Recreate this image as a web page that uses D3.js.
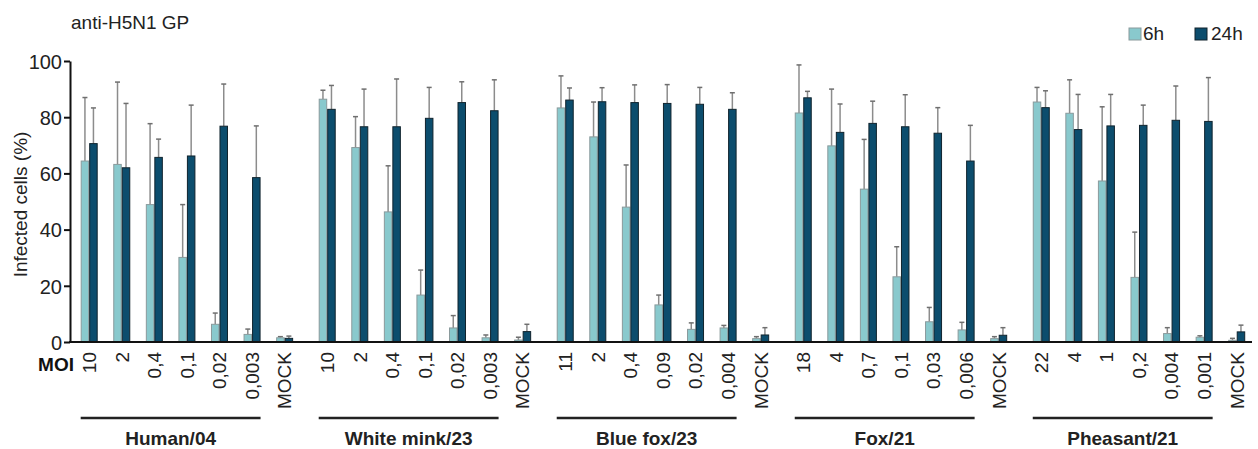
<!DOCTYPE html>
<html>
<head>
<meta charset="utf-8">
<script src="https://cdn.jsdelivr.net/npm/d3@7"></script>
<style>
  body { margin: 0; background: #fff; }
  svg { display: block; font-family: "Liberation Sans", Arial, sans-serif; }
  .tick text { font-size: 20px; fill: #222; }
</style>
</head>
<body>
<svg id="chart" width="1258" height="449"></svg>
<script>
// groups of virus strains, MOI labels per group
const groups = ["Human/04", "White mink/23", "Blue fox/23", "Fox/21", "Pheasant/21"];
const moiLabels = [
  ["10", "2", "0,4", "0,1", "0,02", "0,003", "MOCK"],
  ["10", "2", "0,4", "0,1", "0,02", "0,003", "MOCK"],
  ["11", "2", "0,4", "0,09", "0,02", "0,004", "MOCK"],
  ["18", "4", "0,7", "0,1", "0,03", "0,006", "MOCK"],
  ["22", "4", "1", "0,2", "0,004", "0,001", "MOCK"]
];
const series = ["6h", "24h"];

// mean infected cells (%) and SD, one row per group
const mean6h = [
  [64.4, 63.2, 48.9, 30.1, 6.3, 2.7, 1.5],
  [86.4, 69.2, 46.3, 16.7, 5.0, 1.5, 0.7],
  [83.3, 73.0, 48.0, 13.2, 4.5, 5.0, 1.2],
  [81.5, 69.8, 54.4, 23.2, 7.2, 4.3, 1.2],
  [85.4, 81.4, 57.3, 23.0, 3.0, 1.7, 0.6]
];
const sd6h = [
  [22.6, 29.3, 28.8, 18.8, 4.0, 1.9, 0.4],
  [3.2, 11.0, 16.4, 8.9, 4.4, 1.0, 1.0],
  [11.4, 12.4, 15.0, 3.5, 2.3, 0.9, 0.7],
  [17.1, 20.2, 17.7, 10.7, 5.1, 2.7, 0.7],
  [5.2, 11.9, 26.4, 16.1, 2.1, 0.5, 0.7]
];
const mean24h = [
  [70.6, 62.0, 65.7, 66.2, 76.8, 58.5, 1.3],
  [82.8, 76.6, 76.6, 79.6, 85.2, 82.3, 3.7],
  [86.1, 85.5, 85.2, 84.9, 84.6, 82.8, 2.5],
  [86.9, 74.6, 77.8, 76.6, 74.3, 64.4, 2.4],
  [83.4, 75.6, 76.9, 77.1, 78.9, 78.5, 3.6]
];
const sd24h = [
  [12.7, 22.9, 6.5, 18.1, 15.0, 18.4, 0.8],
  [8.5, 13.4, 17.0, 11.0, 7.4, 11.0, 2.6],
  [4.3, 5.0, 6.3, 6.7, 6.0, 5.9, 2.6],
  [2.3, 10.1, 7.9, 11.4, 9.1, 12.7, 2.7],
  [6.0, 12.5, 11.2, 7.2, 12.2, 15.6, 2.4]
];
const yTicks = [0, 20, 40, 60, 80, 100];

const colors = { "6h": "#89c9cd", "24h": "#0c4d6d" };
const strokes = { "6h": "#8a9a9c", "24h": "#10232d" };

const svg = d3.select("#chart");

const y = d3.scaleLinear().domain([0, 100]).range([342, 61]);

const x0 = d3.scaleBand().domain(groups).range([72.9, 1253]).paddingInner(0.042).paddingOuter(0);
const x1 = d3.scaleBand().domain(d3.range(7)).range([0, x0.bandwidth()])
  .paddingInner(0.478).paddingOuter(0.239);
const xs = d3.scaleBand().domain(series).range([0, x1.bandwidth()]);

// flatten to rows
const rows = [];
groups.forEach((g, gi) => {
  moiLabels[gi].forEach((m, i) => {
    rows.push({ group: g, i: i, moi: m, series: "6h", value: mean6h[gi][i], sd: sd6h[gi][i] });
    rows.push({ group: g, i: i, moi: m, series: "24h", value: mean24h[gi][i], sd: sd24h[gi][i] });
  });
});

const barX = d => x0(d.group) + x1(d.i) + xs(d.series);

// error bars (upper only)
const err = svg.append("g").attr("class", "errors");
rows.forEach(d => {
  const cx = barX(d) + xs.bandwidth() / 2;
  err.append("line")
    .attr("x1", cx).attr("x2", cx)
    .attr("y1", y(d.value)).attr("y2", y(d.value + d.sd))
    .attr("stroke", "#8c8c8c").attr("stroke-width", 1.5);
  err.append("line")
    .attr("x1", cx - 2.5).attr("x2", cx + 2.5)
    .attr("y1", y(d.value + d.sd)).attr("y2", y(d.value + d.sd))
    .attr("stroke", "#6f6f6f").attr("stroke-width", 1.5);
});

// bars
svg.append("g").selectAll("rect")
  .data(rows)
  .join("rect")
  .attr("x", d => barX(d) + 0.5)
  .attr("y", d => y(d.value))
  .attr("width", xs.bandwidth() - 1)
  .attr("height", d => y(0) - y(d.value))
  .attr("fill", d => colors[d.series])
  .attr("stroke", d => strokes[d.series])
  .attr("stroke-width", 1);

// y axis
const yAxis = svg.append("g")
  .attr("transform", "translate(70,0)")
  .call(d3.axisLeft(y).tickValues(yTicks).tickSize(6).tickSizeOuter(0).tickPadding(2));
yAxis.select(".domain").attr("stroke", "#111").attr("stroke-width", 2);
yAxis.selectAll(".tick line").attr("stroke", "#111").attr("stroke-width", 2);
yAxis.selectAll(".tick text").attr("dy", "0.36em");

// x baseline
svg.append("line")
  .attr("x1", 69).attr("x2", 1252)
  .attr("y1", y(0)).attr("y2", y(0))
  .attr("stroke", "#111").attr("stroke-width", 2);

// y label
svg.append("text")
  .attr("transform", `translate(27,${(y(0) + y(100)) / 2 + 3}) rotate(-90)`)
  .attr("text-anchor", "middle")
  .style("font-size", "19px")
  .attr("fill", "#222")
  .text("Infected cells (%)");

// title
svg.append("text")
  .attr("x", 71).attr("y", 29)
  .style("font-size", "19px")
  .attr("fill", "#222")
  .text("anti-H5N1 GP");

// MOI labels
svg.append("text")
  .attr("x", 74).attr("y", 371)
  .attr("text-anchor", "end")
  .style("font-size", "19px").style("font-weight", "bold")
  .attr("fill", "#111")
  .text("MOI");

rows.filter(d => d.series === "6h").forEach(d => {
  const cx = x0(d.group) + x1(d.i) + x1.bandwidth() / 2;
  svg.append("text")
    .attr("transform", `translate(${cx},352) rotate(-90)`)
    .attr("text-anchor", "end")
    .attr("dy", "0.36em")
    .style("font-size", "19px")
    .attr("fill", "#222")
    .text(d.moi);
});

// group underlines + names
groups.forEach(g => {
  const xa = x0(g) + x1(0);
  const xb = x0(g) + x1(5) + x1.bandwidth();
  svg.append("line")
    .attr("x1", xa).attr("x2", xb)
    .attr("y1", 418).attr("y2", 418)
    .attr("stroke", "#222").attr("stroke-width", 2.5);
  svg.append("text")
    .attr("x", (xa + xb) / 2).attr("y", 445)
    .attr("text-anchor", "middle")
    .style("font-size", "19px").style("font-weight", "bold")
    .attr("fill", "#222")
    .text(g);
});

// legend
const legend = svg.append("g");
const legendX = { "6h": 1129, "24h": 1195 };
series.forEach(s => {
  legend.append("rect")
    .attr("x", legendX[s]).attr("y", 28)
    .attr("width", 12).attr("height", 12)
    .attr("fill", colors[s]).attr("stroke", strokes[s]);
  legend.append("text")
    .attr("x", legendX[s] + (s === "6h" ? 14 : 16)).attr("y", 40)
    .style("font-size", "19px")
    .attr("fill", "#222")
    .text(s);
});
</script>
</body>
</html>
